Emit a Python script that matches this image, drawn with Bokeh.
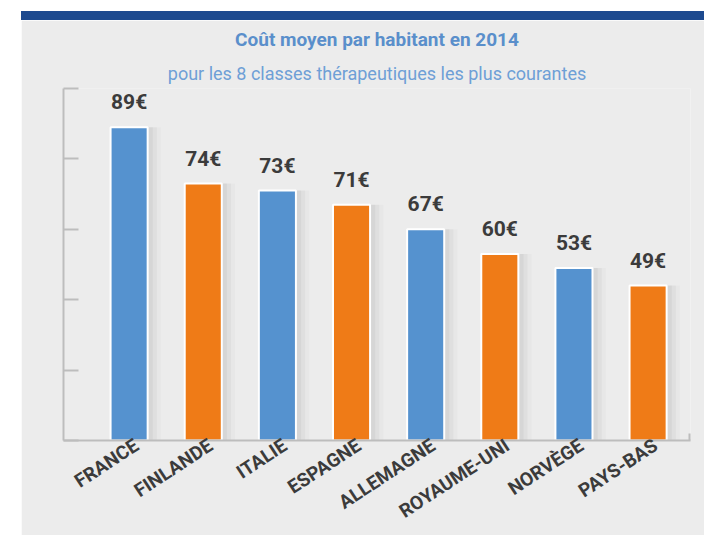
from bokeh.plotting import figure
from bokeh.models import (ColumnDataSource, Range1d, FixedTicker, LabelSet, Title, Div)
from bokeh.layouts import column
from bokeh.transform import dodge
from bokeh.core.properties import value
from bokeh.embed import file_html
from bokeh.resources import INLINE

# ---- data ----
pays = ["FRANCE", "FINLANDE", "ITALIE", "ESPAGNE", "ALLEMAGNE", "ROYAUME-UNI", "NORVÈGE", "PAYS-BAS"]
montants = [89, 74, 73, 71, 67, 60, 53, 49]            # values printed above the bars (€)
hauteur_barres = [89, 73, 71, 67, 60, 53, 49, 44]      # bar heights as drawn in the picture
couleurs = ["#5592CF", "#EF7B17", "#5592CF", "#EF7B17", "#5592CF", "#EF7B17", "#5592CF", "#EF7B17"]
graduations = [0, 20, 40, 60, 80, 100]
titre = "Coût moyen par habitant en 2014"
sous_titre = "pour les 8 classes thérapeutiques les plus courantes"

# ---- styles ----
FOND = "#ECECEC"
AXE = "#BDBDBD"
TEXTE = "#3B3B3B"
X_MIN, X_MAX = -0.885, 7.572
DECALAGE_LABEL = 0.1   # category labels end slightly right of bar centre

idx = list(range(len(pays)))
src = ColumnDataSource(dict(
    x=idx,
    h=hauteur_barres,
    c=couleurs,
    lab=[f"{v}€" for v in montants],
))

p = figure(width=683, height=515, output_backend="svg", toolbar_location=None,
           x_range=Range1d(X_MIN, X_MAX), y_range=Range1d(graduations[0], graduations[-1]),
           min_border_left=42, min_border_right=14, min_border_top=0, min_border_bottom=94,
           margin=(0, 0, 0, 21))
p.background_fill_color = FOND
p.border_fill_color = FOND
p.outline_line_color = None
p.grid.visible = False

# soft shadows
for off, w, a in [(0.13, 0.60, 0.02), (0.09, 0.57, 0.03), (0.05, 0.54, 0.04)]:
    p.vbar(x=dodge("x", off, range=p.x_range), top="h", width=w, bottom=0, source=src,
           fill_color="black", fill_alpha=a, line_color=None)
# bars
p.vbar(x="x", top="h", width=0.5, bottom=0, source=src,
       fill_color="c", line_color="white", line_width=2)

labels = LabelSet(x="x", y="h", text="lab", source=src, y_offset=18,
                  text_align="center", text_baseline="alphabetic",
                  text_font=value("Roboto"), text_font_style="bold", text_font_size="21px",
                  text_color=TEXTE)
p.add_layout(labels)

# y axis: unlabeled ticks pointing inward
p.yaxis.ticker = FixedTicker(ticks=[], minor_ticks=graduations)
p.yaxis.major_tick_in = 0
p.yaxis.major_tick_out = 0
p.yaxis.minor_tick_in = 15
p.yaxis.minor_tick_out = 0
p.yaxis.minor_tick_line_color = AXE
p.yaxis.minor_tick_line_width = 2
p.yaxis.axis_line_color = AXE
p.yaxis.axis_line_width = 2

# x axis
pos_labels = [i + DECALAGE_LABEL for i in idx]
p.xaxis.ticker = FixedTicker(ticks=pos_labels, minor_ticks=[X_MAX - 0.01])
p.xaxis.major_label_overrides = {t: n for t, n in zip(pos_labels, pays)}
p.xaxis.major_label_orientation = 0.58
p.xaxis.major_tick_in = 0
p.xaxis.major_tick_out = 0
p.xaxis.minor_tick_in = 7
p.xaxis.minor_tick_out = 0
p.xaxis.minor_tick_line_color = AXE
p.xaxis.minor_tick_line_width = 2
p.xaxis.axis_line_color = AXE
p.xaxis.axis_line_width = 2
p.xaxis.major_label_standoff = 3
p.xaxis.major_label_text_font = "Roboto"
p.xaxis.major_label_text_font_style = "bold"
p.xaxis.major_label_text_font_size = "19px"
p.xaxis.major_label_text_color = TEXTE

p.add_layout(Title(text=sous_titre, align="center", text_font="Roboto",
                   text_font_style="normal", text_font_size="18px",
                   text_color="#6E9FD6", standoff=10), "above")
p.add_layout(Title(text=titre, align="center", text_font="Roboto",
                   text_font_style="bold", text_font_size="19px",
                   text_color="#5A8FCB", standoff=10), "above")

bandeau = Div(text="", width=683, height=9, margin=(11, 0, 0, 21),
              styles={"background-color": "#1D4A8F"})

layout = column(bandeau, p, spacing=0)

open("out.html", "w").write(file_html(layout, INLINE))
